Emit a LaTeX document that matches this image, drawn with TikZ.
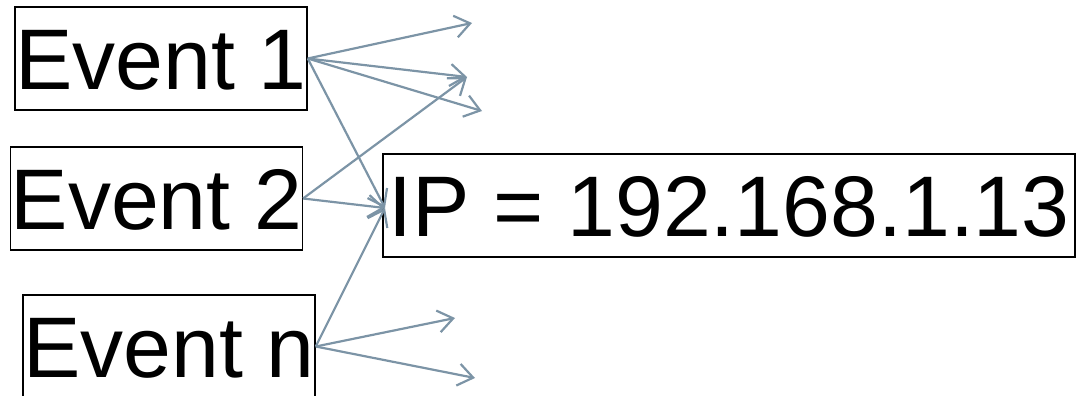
\documentclass[tikz,border=0pt]{standalone}
\usepackage{fontspec}
\setmainfont{Liberation Sans}
\usetikzlibrary{arrows.meta}
\definecolor{arrowc}{RGB}{124,148,166}
\begin{document}
\begin{tikzpicture}[x=1pt,y=-1pt,
  evbox/.style={draw=black,line width=1.5pt,inner sep=0pt,minimum height=103pt,
    text height=61.6pt,text depth=0pt,font=\fontsize{86}{86}\selectfont},
  conn/.style={draw=arrowc,line width=2.2pt,-{Straight Barb[length=15pt,width=22pt]}}]
\useasboundingbox (0,0) rectangle (1080,396);
\node[evbox,minimum width=292pt] (e1) at (161,58.5) {Event 1};
\node[evbox,minimum width=291pt] (e2) at (156.5,198.5) {Event 2};
\node[evbox,minimum width=292pt] (en) at (169,346.5) {Event n};
\node[evbox,minimum width=692pt] (ip) at (729,205.5) {IP = 192.168.1.13};
\coordinate (t1) at (472,23);
\coordinate (t2) at (467,77);
\coordinate (t3) at (482,111);
\coordinate (t4) at (455,318);
\coordinate (t5) at (475,378);
\coordinate (ipin) at (385,208);
\draw[conn] (e1.east) -- (t1);
\draw[conn] (e1.east) -- (t2);
\draw[conn] (e1.east) -- (t3);
\draw[conn] (e1.east) -- (ipin);
\draw[conn] (e2.east) -- (t2);
\draw[conn] (e2.east) -- (ipin);
\draw[conn] (en.east) -- (ipin);
\draw[conn] (en.east) -- (t4);
\draw[conn] (en.east) -- (t5);
\end{tikzpicture}
\end{document}
